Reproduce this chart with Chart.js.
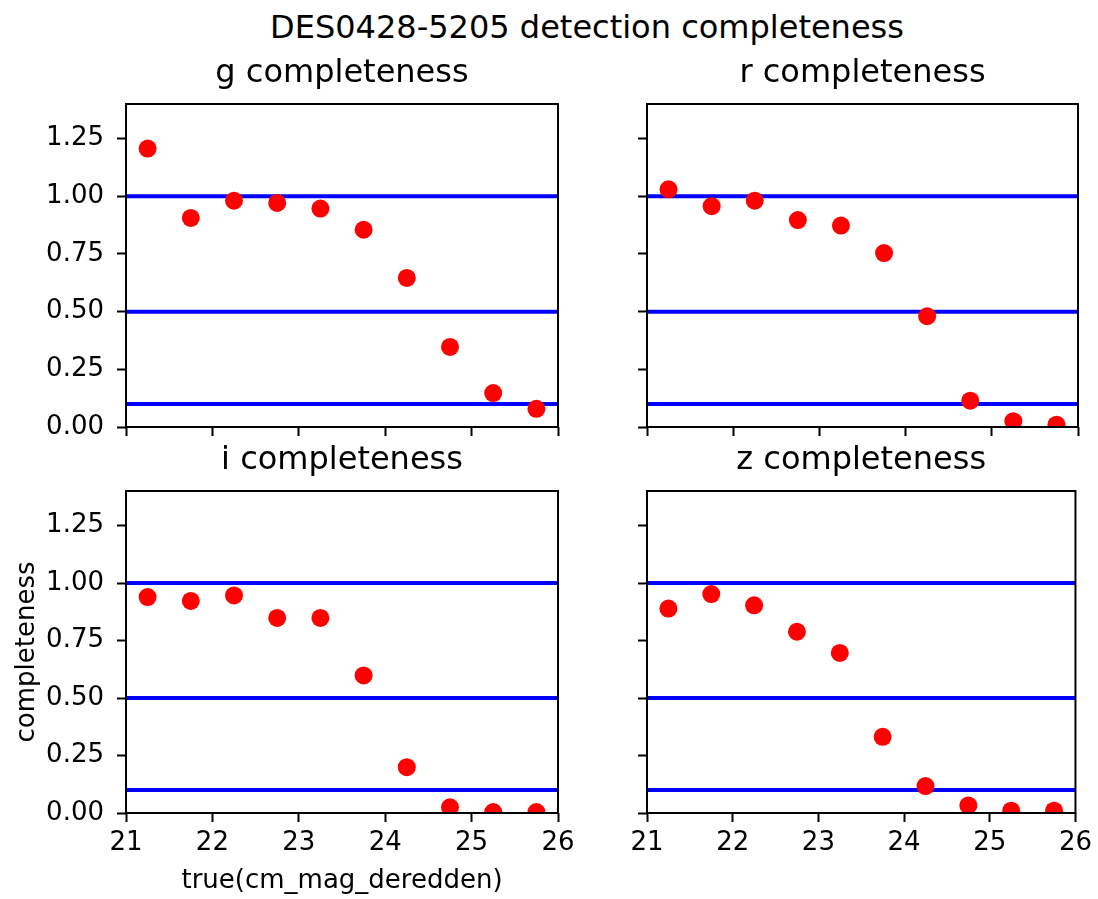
<!DOCTYPE html>
<html>
<head>
<meta charset="utf-8">
<title>DES0428-5205 detection completeness</title>
<script src="https://cdn.jsdelivr.net/npm/chart.js@4.4.0/dist/chart.umd.min.js"></script>
<style>
	html, body { margin: 0; padding: 0; background: #fff; overflow: hidden; }
	body { width: 1098px; height: 899px; position: relative; font-family: "DejaVu Sans", sans-serif; }
	canvas { position: absolute; }
	#suptitle {
		position: absolute; left: 587px; top: 11px; transform: translateX(-50%);
		font-size: 32px; line-height: 32px; white-space: nowrap; color: #000;
	}
</style>
</head>
<body>
<div id="suptitle">DES0428-5205 detection completeness</div>
<canvas id="chart-g" width="600" height="413" style="left:0;top:44px"></canvas>
<canvas id="chart-r" width="498" height="413" style="left:600px;top:44px"></canvas>
<canvas id="chart-i" width="600" height="468" style="left:0;top:431px"></canvas>
<canvas id="chart-z" width="498" height="468" style="left:600px;top:431px"></canvas>
<script>
(function() {
	'use strict';

	// Magnitude bin centres (true cm_mag_deredden).
	const magBins = [21.25, 21.75, 22.25, 22.75, 23.25, 23.75, 24.25, 24.75, 25.25, 25.75];

	// Completeness per band.
	const gComp = [1.207, 0.906, 0.981, 0.971, 0.947, 0.855, 0.646, 0.347, 0.147, 0.079];
	const rComp = [1.030, 0.957, 0.981, 0.897, 0.873, 0.754, 0.480, 0.114, 0.025, 0.010];
	const iComp = [0.939, 0.922, 0.946, 0.848, 0.848, 0.598, 0.199, 0.025, 0.004, 0.004];
	const zComp = [0.889, 0.952, 0.903, 0.788, 0.696, 0.331, 0.117, 0.033, 0.010, 0.010];

	// Reference levels drawn as horizontal lines.
	const thresholds = [1.0, 0.5, 0.1];

	// Axes.
	const xRange = [21, 26];
	const yRange = [0, 1.4];
	const xTicks = [21, 22, 23, 24, 25, 26];
	const yTicks = [0, 0.25, 0.5, 0.75, 1.0, 1.25];

	const FONT = '"DejaVu Sans", sans-serif';

	// Axes box (all four spines) drawn over the data, like matplotlib.
	const frame = {
		id: 'frame',
		afterDraw: function(chart) {
			const a = chart.chartArea;
			const ctx = chart.ctx;
			ctx.save();
			ctx.strokeStyle = '#000';
			ctx.lineWidth = 2;
			ctx.strokeRect(a.left, a.top, a.right - a.left, a.bottom - a.top);
			ctx.restore();
		}
	};

	// Panel title centred over the plot area (not the whole canvas).
	const panelTitle = {
		id: 'panelTitle',
		afterDraw: function(chart, args, opts) {
			const a = chart.chartArea;
			const ctx = chart.ctx;
			ctx.save();
			ctx.fillStyle = '#000';
			ctx.font = '32px ' + FONT;
			ctx.textAlign = 'center';
			ctx.textBaseline = 'alphabetic';
			ctx.fillText(opts.text, (a.left + a.right) / 2, a.top - 22);
			ctx.restore();
		}
	};

	function makePanel(id, title, values, opts) {
		const points = magBins.map(function(m, k) {
			return { x: m, y: values[k] };
		});

		const datasets = [{
			type: 'scatter',
			data: points,
			backgroundColor: '#ff0000',
			borderWidth: 0,
			pointRadius: 9,
			clip: 0,
			order: 0
		}];

		thresholds.forEach(function(t) {
			datasets.push({
				type: 'line',
				data: [{ x: xRange[0], y: t }, { x: xRange[1], y: t }],
				borderColor: '#0000ff',
				borderWidth: 4,
				pointRadius: 0,
				clip: 0,
				order: 1
			});
		});

		new Chart(document.getElementById(id), {
			type: 'scatter',
			data: { datasets: datasets },
			options: {
				responsive: false,
				animation: false,
				devicePixelRatio: 1,
				events: [],
				layout: {
					padding: { left: 0, top: 60, right: opts.padRight, bottom: 0 }
				},
				plugins: {
					legend: { display: false },
					tooltip: { enabled: false },
					title: { display: false },
					panelTitle: { text: title }
				},
				scales: {
					x: {
						type: 'linear',
						min: xRange[0],
						max: xRange[1],
						afterBuildTicks: function(axis) {
							axis.ticks = xTicks.map(function(v) { return { value: v }; });
						},
						afterFit: function(axis) {
							axis.height = opts.xAxisH;
						},
						border: { display: false },
						grid: {
							display: true,
							drawOnChartArea: false,
							drawTicks: true,
							tickLength: 9,
							tickWidth: 2,
							tickColor: '#000'
						},
						ticks: {
							color: '#000',
							padding: 6,
							maxRotation: 0,
							autoSkip: false,
							font: { family: FONT, size: 26 },
							callback: function(v) {
								return opts.xLabels ? String(v) : '';
							}
						},
						title: {
							display: !!opts.xTitle,
							text: opts.xTitle || '',
							color: '#000',
							font: { family: FONT, size: 26 },
							padding: { top: 0, bottom: 1.7 }
						}
					},
					y: {
						type: 'linear',
						min: yRange[0],
						max: yRange[1],
						afterBuildTicks: function(axis) {
							axis.ticks = yTicks.map(function(v) { return { value: v }; });
						},
						afterFit: function(axis) {
							axis.width = opts.yAxisW;
						},
						border: { display: false },
						grid: {
							display: true,
							drawOnChartArea: false,
							drawTicks: true,
							tickLength: 9,
							tickWidth: 2,
							tickColor: '#000'
						},
						ticks: {
							color: '#000',
							padding: 13,
							autoSkip: false,
							font: { family: FONT, size: 26 },
							callback: function(v) {
								return opts.yLabels ? v.toFixed(2) : '';
							}
						},
						title: {
							display: !!opts.yTitle,
							text: opts.yTitle || '',
							color: '#000',
							font: { family: FONT, size: 26 },
							padding: { top: 11.4, bottom: 0 }
						}
					}
				}
			},
			plugins: [frame, panelTitle]
		});
	}

	makePanel('chart-g', 'g completeness', gComp,
		{ padRight: 42, yAxisW: 126, xAxisH: 30, xLabels: false, yLabels: true });
	makePanel('chart-r', 'r completeness', rComp,
		{ padRight: 20, yAxisW: 47, xAxisH: 30, xLabels: false, yLabels: false });
	makePanel('chart-i', 'i completeness', iComp,
		{ padRight: 42, yAxisW: 126, xAxisH: 86, xLabels: true, yLabels: true,
		  xTitle: 'true(cm_mag_deredden)', yTitle: 'completeness' });
	makePanel('chart-z', 'z completeness', zComp,
		{ padRight: 20, yAxisW: 47, xAxisH: 86, xLabels: true, yLabels: false });
})();
</script>
</body>
</html>
